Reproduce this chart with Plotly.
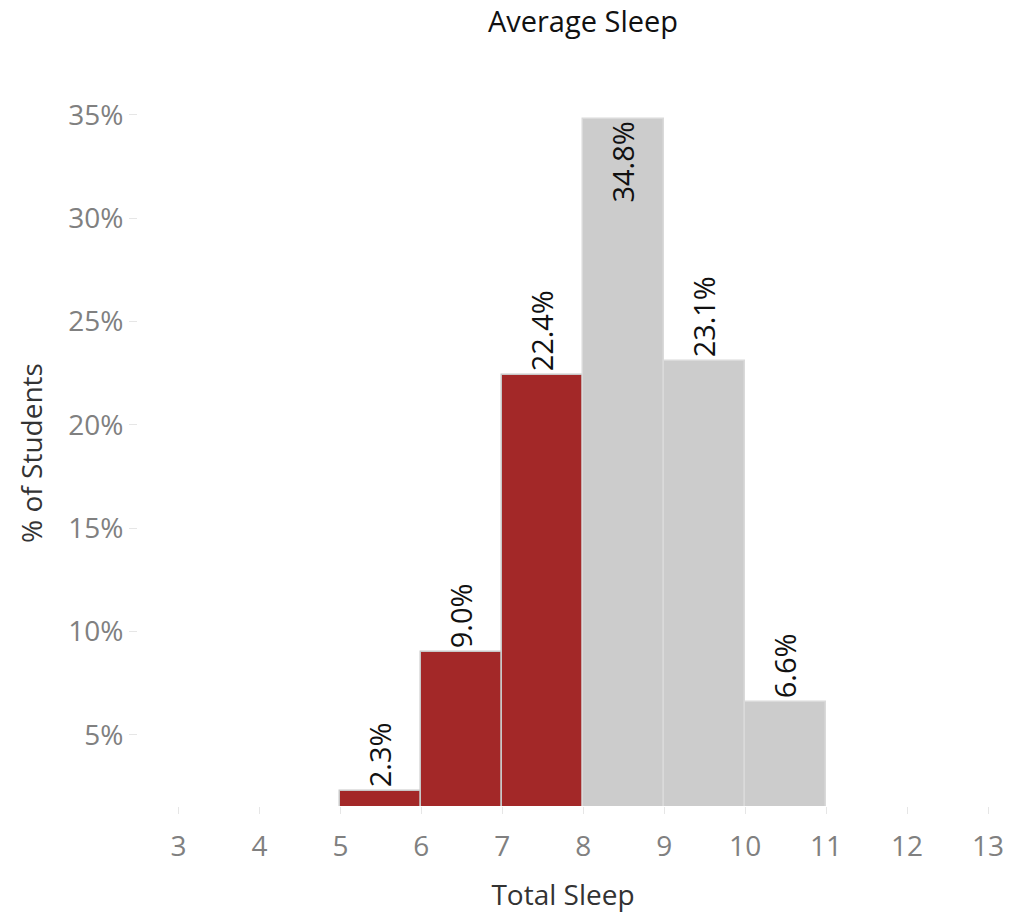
import plotly.graph_objects as go

bin_starts = [5, 6, 7, 8, 9, 10]
pct_students = [2.3, 9.0, 22.4, 34.8, 23.1, 6.6]
labels = ["2.3%", "9.0%", "22.4%", "34.8%", "23.1%", "6.6%"]
bar_colors = ["#a32828", "#a32828", "#a32828", "#cccccc", "#cccccc", "#cccccc"]
line_colors = ["#c8c8c8", "#c8c8c8", "#c8c8c8", "#dadada", "#dadada", "#dadada"]
text_positions = ["outside", "outside", "outside", "inside", "outside", "outside"]
x_ticks = [3, 4, 5, 6, 7, 8, 9, 10, 11, 12, 13]
y_ticks = [5, 10, 15, 20, 25, 30, 35]

FONT = "Open Sans"

fig = go.Figure(
    go.Bar(
        x=[b + 0.5 for b in bin_starts],
        y=pct_students,
        width=1,
        marker=dict(color=bar_colors, line=dict(color=line_colors, width=1.5)),
        text=labels,
        textposition=text_positions,
        textangle=-90,
        insidetextanchor="end",
        textfont=dict(family=FONT, size=29, color="#111111"),
        cliponaxis=False,
        hoverinfo="skip",
    )
)

fig.update_layout(
    width=1025,
    height=916,
    paper_bgcolor="white",
    plot_bgcolor="white",
    margin=dict(l=138, r=37, t=100, b=110),
    title=dict(
        text="Average Sleep",
        x=583 / 1025,
        xanchor="center",
        y=1 - 22 / 916,
        yanchor="middle",
        font=dict(family=FONT, size=29, color="#111111"),
    ),
    showlegend=False,
    bargap=0,
)

fig.update_xaxes(
    range=[2.5, 13],
    tickvals=x_ticks,
    ticktext=[str(t) for t in x_ticks],
    ticks="outside",
    ticklen=7,
    tickcolor="#e6e6e6",
    ticklabelstandoff=8,
    tickfont=dict(family=FONT, size=28, color="#808080"),
    showgrid=False,
    zeroline=False,
    showline=False,
    automargin=False,
    title=dict(text="Total Sleep", font=dict(family=FONT, size=28, color="#333333"), standoff=22),
)

fig.update_yaxes(
    range=[1.56, 35.72],
    tickvals=y_ticks,
    ticktext=[f"{t}%" for t in y_ticks],
    ticks="outside",
    ticklen=8,
    tickcolor="#e6e6e6",
    tickfont=dict(family=FONT, size=28, color="#808080"),
    showgrid=False,
    zeroline=False,
    showline=False,
    automargin=False,
    title=dict(text="% of Students", font=dict(family=FONT, size=28, color="#333333"), standoff=17),
)

fig.write_html("out.html")
